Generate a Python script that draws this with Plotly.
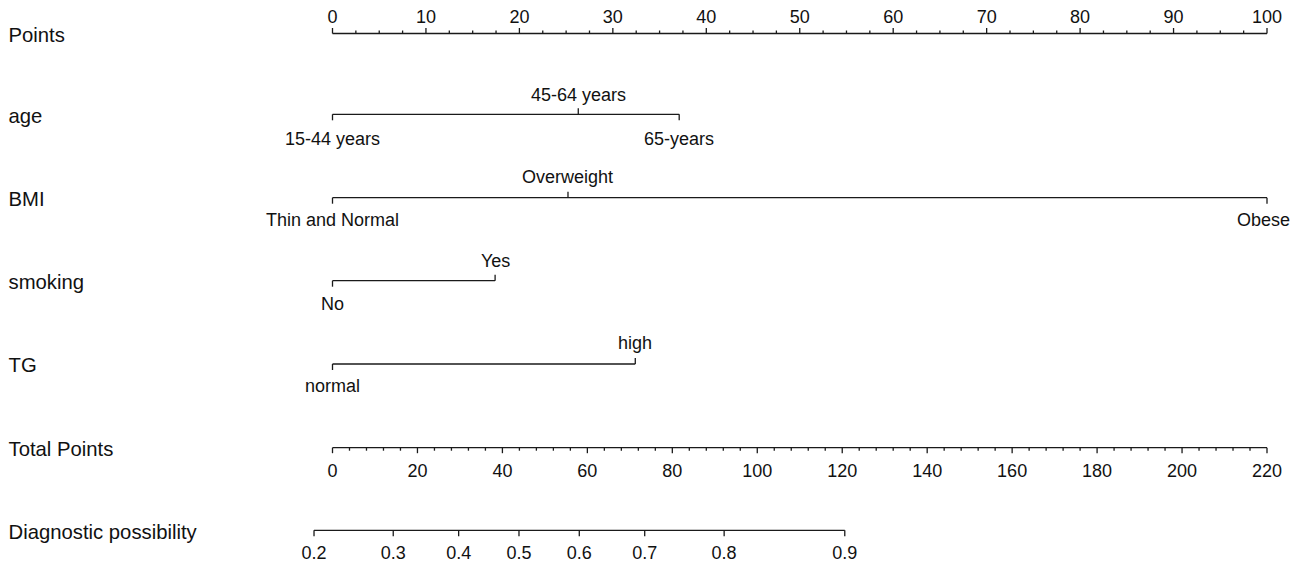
import plotly.graph_objects as go

# ---------------- data ----------------
row_labels = ["Points", "age", "BMI", "smoking", "TG", "Total Points", "Diagnostic possibility"]

points_major = [0, 10, 20, 30, 40, 50, 60, 70, 80, 90, 100]
points_minor_step = 2.5

age_levels = ["15-44 years", "45-64 years", "65-years"]
age_points = [0, 26.3, 37.1]

bmi_levels = ["Thin and Normal", "Overweight", "Obese"]
bmi_points = [0, 25.2, 100]

smoking_levels = ["No", "Yes"]
smoking_points = [0, 17.4]

tg_levels = ["normal", "high"]
tg_points = [0, 32.4]

total_major = [0, 20, 40, 60, 80, 100, 120, 140, 160, 180, 200, 220]
total_minor_step = 4

prob_labels = ["0.2", "0.3", "0.4", "0.5", "0.6", "0.7", "0.8", "0.9"]
prob_total_points = [-4.35, 14.3, 29.7, 43.9, 58.1, 73.5, 92.2, 120.6]

# ---------------- layout / style constants ----------------
PAGE_W, PAGE_H = 1299, 565
OFF = 8                                   # default body margin of the page
W, H = PAGE_W - OFF, PAGE_H - OFF
X0_PX, X100_PX = 332.5, 1267.0            # page pixel of 0 and 100 points
PX_PER_PT = (X100_PX - X0_PX) / 100.0
XR = [(OFF - X0_PX) / PX_PER_PT, (PAGE_W - X0_PX) / PX_PER_PT]
TOTAL_SCALE = total_major[-1] / 100.0     # total points per point

LINE_C = "#1a1a1a"
TXT_C = "#111111"
LW = 1.3
FONT = "Liberation Sans, Arial, sans-serif"
TICK_FS = 18
ROW_FS = 20.3
TEXT_DY = 1.5
LABEL_XSHIFT = {"Obese": -4}              # keep the right-most label inside the page

row_y = {"Points": 33.5, "age": 114.3, "BMI": 197.7, "smoking": 280.7,
         "TG": 364, "Total Points": 447.7, "Diagnostic possibility": 530.3}
above_off = {"age": -19, "BMI": -20.3, "smoking": -20, "TG": -21.3}
below_off = {"age": 25, "BMI": 22.6, "smoking": 23.3, "TG": 22}

fig = go.Figure()


def add_segments(xs_pairs, ys_pairs, xaxis="x"):
    xs, ys = [], []
    for (xa, xb), (ya, yb) in zip(xs_pairs, ys_pairs):
        xs += [xa, xb, None]
        ys += [ya, yb, None]
    fig.add_trace(go.Scatter(x=xs, y=ys, mode="lines", xaxis=xaxis, yaxis="y",
                             line=dict(color=LINE_C, width=LW),
                             hoverinfo="skip", showlegend=False, cliponaxis=False))


def add_text(xs, ys, texts, size, xaxis="x", pos="middle center"):
    fig.add_trace(go.Scatter(x=xs, y=[v + TEXT_DY for v in ys], text=texts, mode="text",
                             xaxis=xaxis, yaxis="y", textposition=pos,
                             textfont=dict(family=FONT, size=size, color=TXT_C),
                             hoverinfo="skip", showlegend=False, cliponaxis=False))


def add_label(x, y, text, size):
    fig.add_annotation(x=x, y=y, xref="x", yref="y", text=text, showarrow=False,
                       xanchor="center", yanchor="middle", xshift=LABEL_XSHIFT.get(text, 0),
                       font=dict(family=FONT, size=size, color=TXT_C))


# ---- Points axis (ticks up) ----
yP = row_y["Points"]
n_minor = int(round(100 / points_minor_step))
minor_pts = [i * points_minor_step for i in range(n_minor + 1)]
add_segments([(points_major[0], points_major[-1])], [(yP, yP)])
add_segments([(p, p) for p in minor_pts],
             [(yP, yP - (5.5 if p in points_major else 3)) for p in minor_pts])
add_text(points_major, [yP - 17] * len(points_major), [str(v) for v in points_major], TICK_FS)

# ---- categorical variables ----
for name, levels, pts in [("age", age_levels, age_points),
                          ("BMI", bmi_levels, bmi_points),
                          ("smoking", smoking_levels, smoking_points),
                          ("TG", tg_levels, tg_points)]:
    y = row_y[name]
    add_segments([(min(pts), max(pts))], [(y, y)])
    segs_y, lab_y = [], []
    for i, p in enumerate(pts):
        if i % 2 == 0:
            segs_y.append((y, y + 6))
            lab_y.append(y + below_off[name])
        else:
            segs_y.append((y, y - 6))
            lab_y.append(y + above_off[name])
    add_segments([(p, p) for p in pts], segs_y)
    for p, ly, lev in zip(pts, lab_y, levels):
        add_label(p, ly, lev, TICK_FS)

# ---- Total Points axis (ticks down), on its own overlaying x axis ----
yT = row_y["Total Points"]
tmin = [i * total_minor_step for i in range(int(total_major[-1] / total_minor_step) + 1)]
add_segments([(total_major[0], total_major[-1])], [(yT, yT)], xaxis="x2")
add_segments([(t, t) for t in tmin],
             [(yT, yT + (5.5 if t in total_major else 3)) for t in tmin], xaxis="x2")
add_text(total_major, [yT + 23.5] * len(total_major), [str(v) for v in total_major], TICK_FS, xaxis="x2")

# ---- Diagnostic possibility axis ----
yD = row_y["Diagnostic possibility"]
add_segments([(prob_total_points[0], prob_total_points[-1])], [(yD, yD)], xaxis="x2")
add_segments([(t, t) for t in prob_total_points], [(yD, yD + 6)] * len(prob_total_points), xaxis="x2")
add_text(prob_total_points, [yD + 22.7] * len(prob_total_points), prob_labels, TICK_FS, xaxis="x2")

# ---- row labels ----
row_label_x = (OFF + 0.5 - X0_PX) / PX_PER_PT   # left page margin, in points units
add_text([row_label_x] * len(row_labels), [row_y[r] + 1.8 for r in row_labels], row_labels,
         ROW_FS, pos="middle right")

fig.update_layout(
    width=W, height=H,
    margin=dict(l=0, r=0, t=0, b=0),
    paper_bgcolor="white", plot_bgcolor="white",
    showlegend=False,
    xaxis=dict(range=XR, visible=False, fixedrange=True),
    xaxis2=dict(range=[XR[0] * TOTAL_SCALE, XR[1] * TOTAL_SCALE], visible=False,
                overlaying="x", fixedrange=True),
    yaxis=dict(range=[PAGE_H, OFF], visible=False, fixedrange=True),
)

fig.write_html("out.html")
